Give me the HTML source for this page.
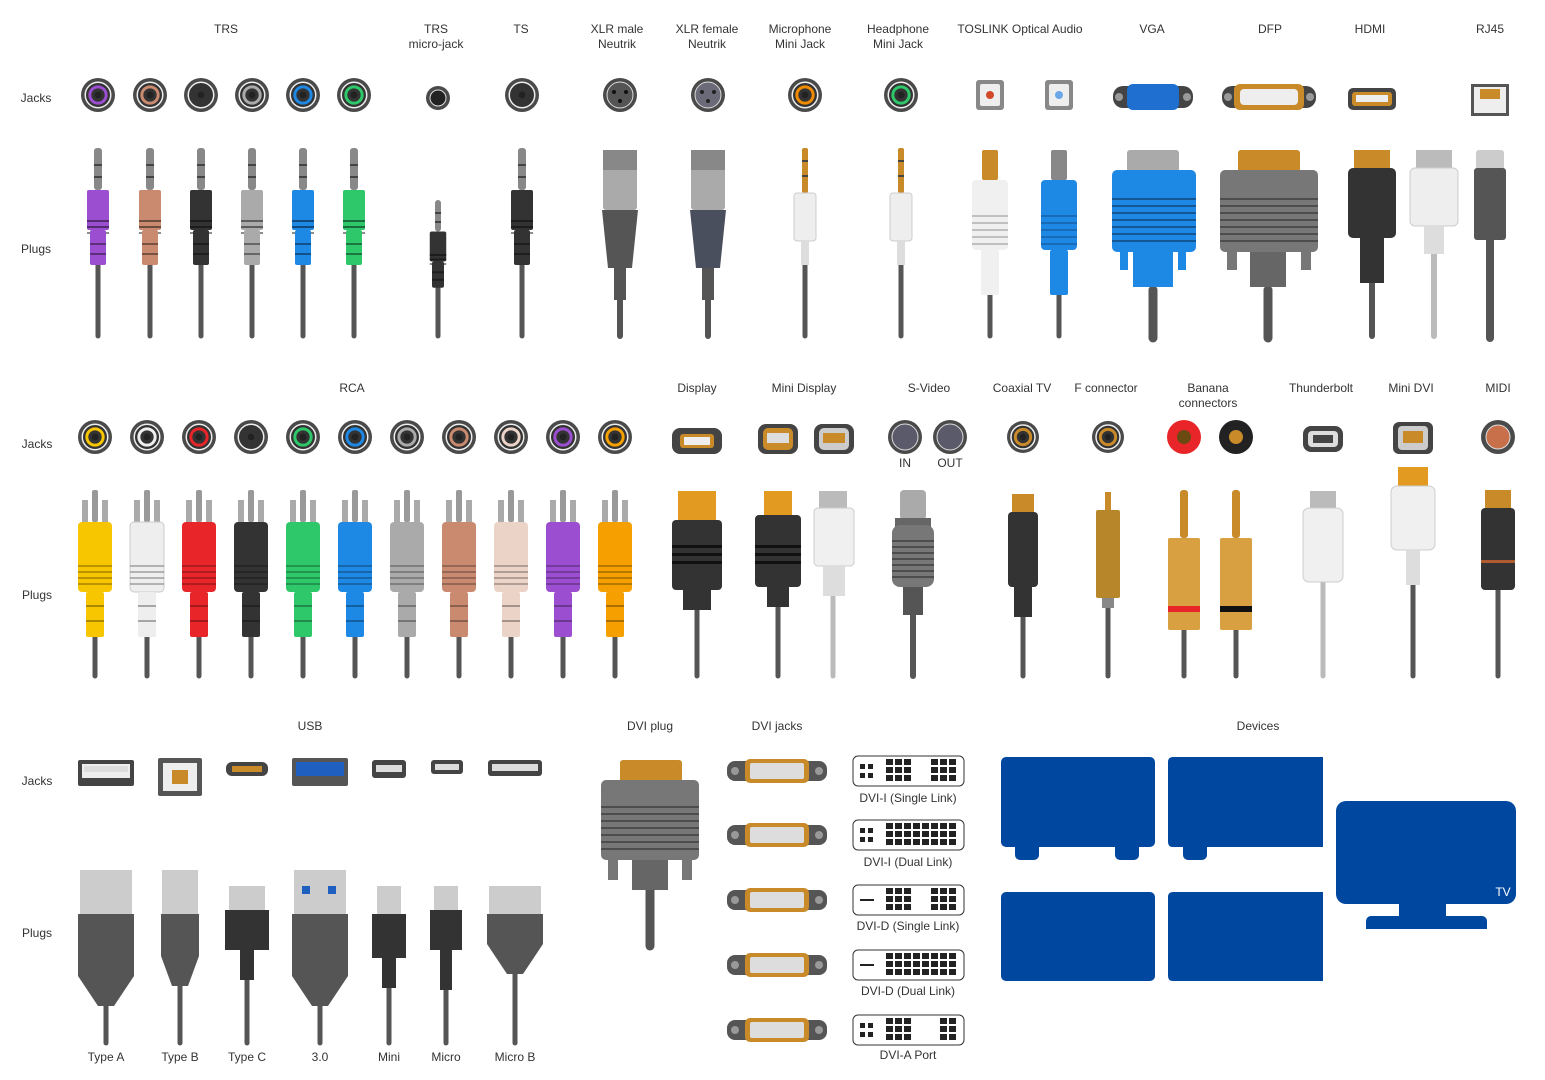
<!DOCTYPE html>
<html><head><meta charset="utf-8"><style>
html,body{margin:0;padding:0;background:#fff;width:1545px;height:1080px;overflow:hidden}
svg{position:absolute;left:0;top:0}
text{font-family:"Liberation Sans","DejaVu Sans",sans-serif;font-size:12px;fill:#333;text-anchor:middle}
</style></head><body>
<svg id="s" width="1545" height="1080" xmlns="http://www.w3.org/2000/svg">
<g id="g"></g>
<g>
<text x="226" y="33">TRS</text>
<text x="436" y="33">TRS</text><text x="436" y="48">micro-jack</text>
<text x="521" y="33">TS</text>
<text x="617" y="33">XLR male</text><text x="617" y="48">Neutrik</text>
<text x="707" y="33">XLR female</text><text x="707" y="48">Neutrik</text>
<text x="800" y="33">Microphone</text><text x="800" y="48">Mini Jack</text>
<text x="898" y="33">Headphone</text><text x="898" y="48">Mini Jack</text>
<text x="1020" y="33">TOSLINK Optical Audio</text>
<text x="1152" y="33">VGA</text>
<text x="1270" y="33">DFP</text>
<text x="1370" y="33">HDMI</text>
<text x="1490" y="33">RJ45</text>
<text x="36" y="102">Jacks</text>
<text x="36" y="253">Plugs</text>
<text x="352" y="392">RCA</text>
<text x="697" y="392">Display</text>
<text x="804" y="392">Mini Display</text>
<text x="929" y="392">S-Video</text>
<text x="1022" y="392">Coaxial TV</text>
<text x="1106" y="392">F connector</text>
<text x="1208" y="392">Banana</text><text x="1208" y="407">connectors</text>
<text x="1321" y="392">Thunderbolt</text>
<text x="1411" y="392">Mini DVI</text>
<text x="1498" y="392">MIDI</text>
<text x="37" y="448">Jacks</text>
<text x="37" y="599">Plugs</text>
<text x="905" y="467">IN</text><text x="950" y="467">OUT</text>
<text x="310" y="730">USB</text>
<text x="650" y="730">DVI plug</text>
<text x="777" y="730">DVI jacks</text>
<text x="1258" y="730">Devices</text>
<text x="37" y="785">Jacks</text>
<text x="37" y="937">Plugs</text>
<text x="106" y="1061">Type A</text><text x="180" y="1061">Type B</text><text x="247" y="1061">Type C</text>
<text x="320" y="1061">3.0</text><text x="389" y="1061">Mini</text><text x="446" y="1061">Micro</text><text x="515" y="1061">Micro B</text>
<text x="908" y="802">DVI-I (Single Link)</text>
<text x="908" y="866">DVI-I (Dual Link)</text>
<text x="908" y="930">DVI-D (Single Link)</text>
<text x="908" y="995">DVI-D (Dual Link)</text>
<text x="908" y="1059">DVI-A Port</text>
<text x="1503" y="896" style="fill:#fff">TV</text>
</g>
</svg>
<script>
var h='';
function R(x,y,w,hh,f,rx,st){h+='<rect x="'+x+'" y="'+y+'" width="'+w+'" height="'+hh+'" fill="'+f+'"'+(rx?' rx="'+rx+'"':'')+(st?' stroke="'+st+'"':'')+'/>';}
function C(x,y,r,f,st,sw){h+='<circle cx="'+x+'" cy="'+y+'" r="'+r+'" fill="'+f+'"'+(st?' stroke="'+st+'" stroke-width="'+(sw||1)+'"':'')+'/>';}
function L(x,y1,y2,w,c){h+='<line x1="'+x+'" y1="'+y1+'" x2="'+x+'" y2="'+y2+'" stroke="'+c+'" stroke-width="'+w+'" stroke-linecap="round"/>';}
function jack(x,y,c,r){r=r||17;C(x,y,r,'#4a4a4a');C(x,y,r*0.75,'#333','#eee',1.5);C(x,y,r*0.48,'#333',c,3);C(x,y,r*0.2,'#222');}
var trs=['#9b4fd0','#c98a70','#333','#aaa','#1e88e5','#2ec76a'];
var tx=[98,150,201,252,303,354];
tx.forEach(function(x,i){jack(x,95,trs[i]);});
C(438,98,12,'#4a4a4a');C(438,98,8,'#222','#ddd',1);
jack(522,95,'#333');
C(620,95,17,'#4a4a4a');C(620,95,13,'#555','#ddd',1);C(614,92,2,'#111');C(626,92,2,'#111');C(620,101,2,'#111');
C(708,95,17,'#4a4a4a');C(708,95,13,'#6a6a78','#ddd',1);C(702,92,2,'#222');C(714,92,2,'#222');C(708,101,2,'#222');
jack(805,95,'#f08a00');jack(901,95,'#2ec76a');
[990,1059].forEach(function(x,i){R(x-14,80,28,30,'#888',3);R(x-10,84,20,22,'#eee',2);C(x,95,4,i?'#6aa8e8':'#d04a2a');});
R(1113,86,80,22,'#444',10);R(1127,84,52,26,'#1e6fd0',6);C(1119,97,4,'#999');C(1187,97,4,'#999');
R(1222,86,94,22,'#444',10);R(1234,84,70,26,'#c98a2a',6);R(1240,89,58,16,'#eee',4);C(1228,97,4,'#999');C(1310,97,4,'#999');
R(1348,88,48,22,'#444',5);R(1352,92,40,14,'#c98a2a',3);R(1356,95,32,7,'#eee');
R(1471,84,38,32,'#555');R(1474,87,32,26,'#eee');R(1480,89,20,10,'#c98a2a');
function trsPlug(x,c,top,sc){sc=sc||1;var t=top;R(x-4*sc,t,8*sc,42*sc,'#888',3);R(x-4*sc,t+16*sc,8*sc,2,'#444');R(x-4*sc,t+28*sc,8*sc,2,'#444');
R(x-11*sc,t+42*sc,22*sc,40*sc,c,2);for(var k=0;k<3;k++)R(x-11*sc,t+(72+k*6)*sc,22*sc,2,'rgba(0,0,0,.45)');R(x-8*sc,t+82*sc,16*sc,35*sc,c,2);R(x-8*sc,t+(95)*sc,16*sc,2,'rgba(0,0,0,.4)');R(x-8*sc,t+(105)*sc,16*sc,2,'rgba(0,0,0,.4)');}
tx.forEach(function(x,i){L(x,260,336,5,'#555');trsPlug(x,trs[i],148);});
L(438,260,336,5,'#555');trsPlug(438,'#333',200,0.75);
L(522,260,336,5,'#555');trsPlug(522,'#333',148);
[[620,'#555'],[708,'#4a4f5e']].forEach(function(a){var x=a[0];L(x,300,336,6,'#555');R(x-17,150,34,60,'#aaa',3);R(x-17,150,34,20,'#888');h+='<path d="M'+(x-18)+' 210 H'+(x+18)+' L'+(x+12)+' 268 H'+(x-12)+' Z" fill="'+a[1]+'"/>';R(x-6,268,12,32,'#555');});
[805,901].forEach(function(x){L(x,260,336,5,'#555');R(x-3,148,6,45,'#c98a2a',2);R(x-3,160,6,2,'#444');R(x-3,175,6,2,'#444');R(x-11,193,22,48,'#eee',3,'#ccc');R(x-4,241,8,24,'#ddd');});
[[990,'#f0f0f0'],[1059,'#1e88e5']].forEach(function(a){var x=a[0];L(x,290,336,5,'#555');R(x-8,150,16,30,a[0]==990?'#c98a2a':'#888',2);R(x-18,180,36,70,a[1],4);for(var k=0;k<5;k++)R(x-18,215+k*7,36,2,'rgba(0,0,0,.2)');R(x-9,250,18,45,a[1],2);});
L(1153,290,338,9,'#555');R(1127,150,52,22,'#aaa',3);R(1112,170,84,82,'#1e88e5',5);for(var k=0;k<7;k++)R(1112,198+k*7,84,2,'rgba(0,0,0,.35)');R(1133,252,40,35,'#1e88e5');R(1120,252,8,18,'#1e88e5');R(1178,252,8,18,'#1e88e5');
L(1268,290,338,9,'#555');R(1238,150,62,22,'#c98a2a',3);R(1220,170,98,82,'#777',5);for(var k=0;k<7;k++)R(1220,198+k*7,98,2,'rgba(0,0,0,.35)');R(1250,252,36,35,'#666');R(1227,252,10,18,'#777');R(1301,252,10,18,'#777');
L(1372,280,336,6,'#555');R(1354,150,36,18,'#c98a2a');R(1348,168,48,70,'#333',5);R(1360,238,24,45,'#333');
L(1434,250,336,6,'#bbb');R(1416,150,36,18,'#bbb');R(1410,168,48,58,'#eee',5,'#ccc');R(1424,226,20,28,'#ddd');
L(1490,235,338,8,'#555');R(1476,150,28,20,'#ccc',3);R(1474,168,32,72,'#555',3);
var rc=['#f7c600','#eee','#e8262a','#333','#2ec76a','#1e88e5','#aaa','#c98a70','#ecd3c8','#9b4fd0','#f5a000'];
var rx=[95,147,199,251,303,355,407,459,511,563,615];
rx.forEach(function(x,i){jack(x,437,rc[i]);L(x,630,676,5,'#555');R(x-3,490,6,32,'#999',2);R(x-13,500,6,22,'#aaa');R(x+7,500,6,22,'#aaa');R(x-17,522,34,70,rc[i],4,i==1?'#ccc':null);for(var k=0;k<4;k++)R(x-17,565+k*6,34,2,'rgba(0,0,0,.25)');R(x-9,592,18,45,rc[i],2);R(x-9,605,18,2,'rgba(0,0,0,.3)');R(x-9,620,18,2,'rgba(0,0,0,.3)');});
R(672,428,50,26,'#444',8);R(680,434,34,14,'#c98a2a',3);R(684,437,26,8,'#eee');
R(758,424,40,30,'#444',8);R(763,428,30,22,'#c98a2a',5);R(767,433,22,10,'#ddd');
R(814,424,40,30,'#444',8);R(819,428,30,22,'#ccc',5);R(823,433,22,10,'#c98a2a');
C(905,437,17,'#4a4a4a');C(905,437,13,'#5a5a6a','#ddd',1);C(950,437,17,'#4a4a4a');C(950,437,13,'#5a5a6a','#ddd',1);
jack(1023,437,'#c98a2a',16);jack(1108,437,'#c98a2a',16);
C(1184,437,17,'#e8262a');C(1184,437,7,'#6a4a10');C(1236,437,17,'#222');C(1236,437,7,'#c98a2a');
R(1303,426,40,26,'#444',8);R(1308,431,30,16,'#ddd',4);R(1313,435,20,8,'#444');
R(1393,422,40,32,'#444',6);R(1398,426,30,24,'#ccc',4);R(1403,431,20,12,'#c98a2a');
C(1498,437,17,'#4a4a4a');C(1498,437,12,'#c8704a','#ddd',1);
L(697,600,676,5,'#555');R(678,491,38,30,'#e39a20');R(672,520,50,70,'#333',4);for(var k=0;k<3;k++)R(672,545+k*8,50,3,'#111');R(683,590,28,20,'#333');
L(778,600,676,5,'#555');R(764,491,28,28,'#e39a20');R(755,515,46,72,'#333',4);for(var k=0;k<3;k++)R(755,545+k*8,46,3,'#111');R(767,587,22,20,'#333');
L(833,590,676,5,'#bbb');R(819,491,28,28,'#bbb');R(814,508,40,58,'#f0f0f0',4,'#ccc');R(823,566,22,30,'#ddd');
L(913,610,676,6,'#555');R(900,490,26,30,'#aaa',4);R(895,518,36,40,'#666');R(892,525,42,62,'#777',8);for(var k=0;k<7;k++)R(892,540+k*6,42,2,'rgba(0,0,0,.35)');R(903,587,20,28,'#555');
L(1023,610,676,5,'#555');R(1012,494,22,20,'#c98a2a');R(1008,512,30,75,'#333',4);R(1014,587,18,30,'#333');
L(1108,600,676,5,'#555');R(1105,492,6,20,'#c98a2a');R(1096,510,24,88,'#b8862a',2);R(1102,598,12,10,'#888');
[[1184,'#e8262a'],[1236,'#111']].forEach(function(a){var x=a[0];L(x,630,676,5,'#555');R(x-4,490,8,48,'#c98a2a',3);R(x-16,538,32,92,'#d8a040',2);R(x-16,606,32,6,a[1]);});
L(1323,580,676,5,'#bbb');R(1310,491,26,18,'#bbb');R(1303,508,40,74,'#f0f0f0',6,'#ccc');
L(1413,580,676,5,'#555');R(1398,467,30,20,'#e39a20');R(1391,486,44,64,'#f0f0f0',6,'#ccc');R(1406,550,14,35,'#ddd');
L(1498,590,676,5,'#555');R(1485,490,26,20,'#c98a2a');R(1481,508,34,82,'#333',4);R(1481,560,34,3,'#b05a30');
R(78,760,56,26,'#444',2);R(82,764,48,14,'#eee');R(84,766,44,6,'#ddd');
R(158,758,44,38,'#555',2);R(163,763,34,28,'#eee');R(172,770,16,14,'#c98a2a');
R(226,762,42,14,'#444',6);R(232,766,30,6,'#c98a2a');
R(292,758,56,28,'#555',2);R(296,762,48,14,'#1e5fc0');
R(372,760,34,18,'#444',3);R(376,765,26,7,'#ddd');
R(431,760,32,14,'#444',3);R(435,764,24,6,'#ddd');
R(488,760,54,16,'#444',3);R(492,764,46,7,'#ddd');
function usb(x,w,top,bw,bh){L(x,960,1043,5,'#555');R(x-w/2,top,w,916-top,'#ccc');h+='<path d="M'+(x-bw/2)+' 914 H'+(x+bw/2)+' V'+(914+bh-30)+' L'+(x+8)+' '+(914+bh)+' H'+(x-8)+' L'+(x-bw/2)+' '+(914+bh-30)+' Z" fill="#555"/>';}
usb(106,52,870,56,92);usb(180,36,870,38,72);usb(320,52,870,56,92);usb(515,52,886,56,60);
R(302,886,8,8,'#1e5fc0');R(328,886,8,8,'#1e5fc0');
L(247,960,1043,5,'#555');R(229,886,36,26,'#ccc');R(225,910,44,40,'#333');R(240,950,14,30,'#333');
L(389,970,1043,5,'#555');R(377,886,24,30,'#ccc');R(372,914,34,44,'#333');R(382,958,14,30,'#333');
L(446,970,1043,5,'#555');R(434,886,24,30,'#ccc');R(430,910,32,40,'#333');R(440,950,12,40,'#333');
L(650,880,946,9,'#555');R(620,760,62,22,'#c98a2a',3);R(601,780,98,80,'#777',5);for(var k=0;k<7;k++)R(601,806+k*7,98,2,'rgba(0,0,0,.35)');R(632,860,36,30,'#666');R(608,860,10,20,'#777');R(682,860,10,20,'#777');
[771,835,900,965,1030].forEach(function(y){R(727,y-10,100,20,'#555',8);R(745,y-12,64,24,'#c98a2a',5);R(750,y-8,54,16,'#ddd',2);C(735,y,4,'#999');C(819,y,4,'#999');});
[771,835,900,965,1030].forEach(function(y,i){R(853,y-15,111,30,'#fff',5,'#333');
 if(i==2||i==3)R(860,y-1,14,2,'#222');else{R(860,y-7,5,5,'#222');R(868,y-7,5,5,'#222');R(860,y+2,5,5,'#222');R(868,y+2,5,5,'#222');}
 for(var r=0;r<3;r++)for(var c=0;c<8;c++){if((i==0||i==2)&&(c>2&&c<5))continue;if(i==4&&c>2&&c<6)continue;R(886+c*9,y-12+r*8,7,6,'#222');}});
var B='#0047a0';
R(1001,757,154,90,B,5);R(1015,842,24,18,B,5);R(1115,842,24,18,B,5);
h+='<path d="M1173 757 H1323 V847 H1173 Q1168 847 1168 842 V762 Q1168 757 1173 757 Z" fill="'+B+'"/>';R(1183,842,24,18,B,5);
R(1001,892,154,89,B,5);
h+='<path d="M1173 892 H1323 V981 H1173 Q1168 981 1168 976 V897 Q1168 892 1173 892 Z" fill="'+B+'"/>';
R(1336,801,180,103,B,10);R(1399,903,47,14,B);R(1366,916,121,13,B,5);R(1366,922,121,7,B);
document.getElementById('g').innerHTML=h;
</script>
</body></html>
